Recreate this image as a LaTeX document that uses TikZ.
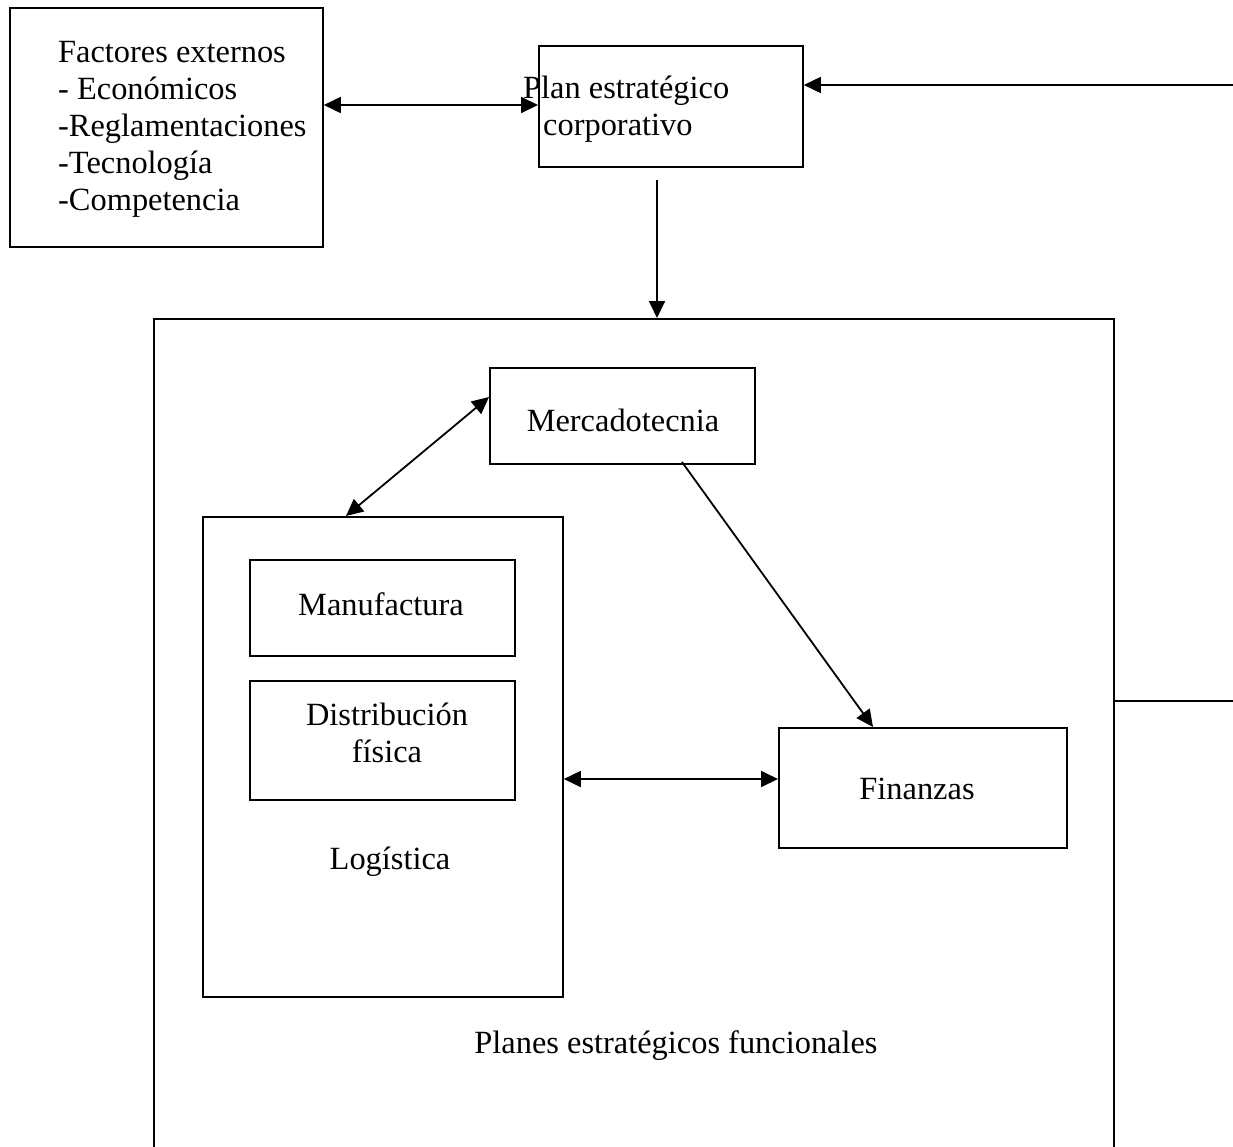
\documentclass[tikz,border=0pt]{standalone}
\usepackage{fontspec}
\setmainfont{Liberation Serif}
\usetikzlibrary{arrows.meta}
\begin{document}
\begin{tikzpicture}[x=1pt,y=-1pt,
  box/.style={draw,line width=1.8pt,inner sep=0pt,minimum width=#1},
  lbl/.style={inner sep=0pt,font=\fontsize{32.4}{37}\selectfont},
  link/.style={line width=1.8pt},
  tip/.style={-{Triangle[length=17pt,width=16pt]}},
  tips/.style={{Triangle[length=17pt,width=16pt]}-{Triangle[length=17pt,width=16pt]}}]
\useasboundingbox (0,0) rectangle (1233,1146);
\clip (0,0) rectangle (1233,1146);

% outer frame of the functional plans
\node[box=960pt,minimum height=860pt,anchor=north west] (func) at (153,318) {};
\node[lbl] (funcT) at (676,1046) {Planes estratégicos funcionales};

% external factors
\node[box=313pt,minimum height=239pt,anchor=north west] (ext) at (9,7) {};
\node[lbl,anchor=north west,align=left] (extT) at (58,41)
  {Factores externos\\- Económicos\\-Reglamentaciones\\-Tecnología\\-Competencia};

% corporate plan
\node[box=264pt,minimum height=121pt,anchor=north west] (corp) at (538,45) {};
\node[lbl,anchor=north west,align=left] (corpT) at (523,76)
  {Plan estratégico\\\hspace*{20pt}corporativo};

% marketing
\node[box=265pt,minimum height=96pt,anchor=north west] (merc) at (489,367) {};
\node[lbl] (mercT) at (623,420) {Mercadotecnia};

% logistics with its two parts
\node[box=360pt,minimum height=480pt,anchor=north west] (log) at (202,516) {};
\node[lbl] (logT) at (390,862) {Logística};
\node[box=265pt,minimum height=96pt,anchor=north west] (manu) at (249,559) {};
\node[lbl] (manuT) at (381,604) {Manufactura};
\node[box=265pt,minimum height=119pt,anchor=north west] (dist) at (249,680) {};
\node[lbl,align=center] (distT) at (387,733) {Distribución\\física};

% finance
\node[box=288pt,minimum height=120pt,anchor=north west] (fin) at (778,727) {};
\node[lbl] (finT) at (917,789) {Finanzas};

% connector end points
\coordinate (rightTop) at (1233,85);
\coordinate (rightMid) at (1233,701);
\coordinate (corpOut) at (657,180);
\coordinate (funcIn) at (657,318);
\coordinate (mercL) at (489,397);
\coordinate (logTop) at (346,516);
\coordinate (mercB) at (682,462);
\coordinate (finTop) at (873,727);

% connectors
\draw[link,tips] (ext.east |- 0,105) -- (corp.west |- 0,105);
\draw[link,tip] (rightTop) -- (corp.east |- rightTop);
\draw[link,tip] (corpOut) -- (funcIn);
\draw[link] (func.east |- rightMid) -- (rightMid);
\draw[link,tips] (mercL) -- (logTop);
\draw[link,tip] (mercB) -- (finTop);
\draw[link,tips] (log.east |- 0,779) -- (fin.west |- 0,779);
\end{tikzpicture}
\end{document}
